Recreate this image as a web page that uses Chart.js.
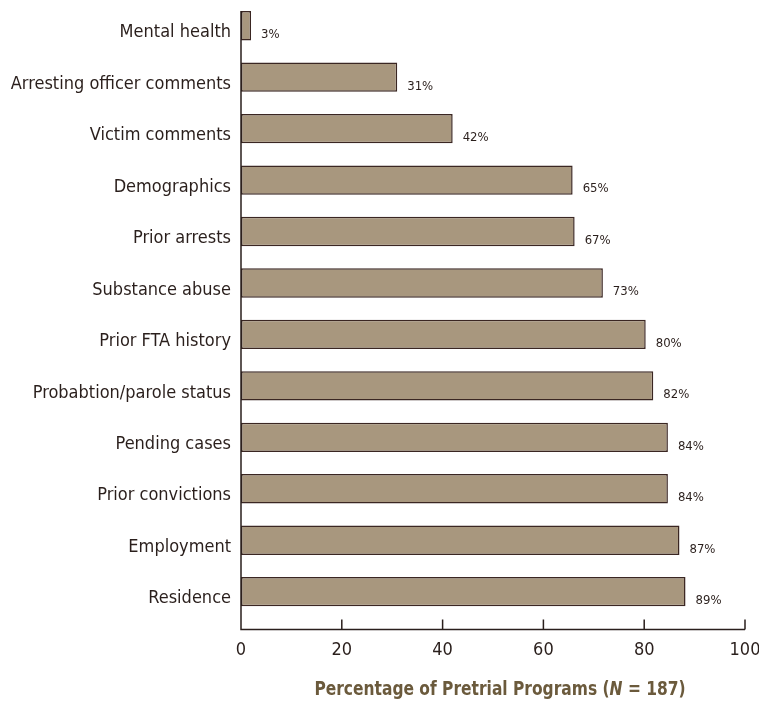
<!DOCTYPE html>
<html lang="en">
<head>
<meta charset="UTF-8">
<title>Pretrial Programs</title>
<script src="https://cdn.jsdelivr.net/npm/chart.js"></script>
<style>
  html, body { margin: 0; padding: 0; background: #fff; }
  #wrap { width: 759px; height: 707px; position: relative; }
</style>
</head>
<body>
<div id="wrap"><canvas id="dataChart"></canvas></div>
<script>
const categories = ['Mental health', 'Arresting officer comments', 'Victim comments', 'Demographics',
  'Prior arrests', 'Substance abuse', 'Prior FTA history', 'Probabtion/parole status',
  'Pending cases', 'Prior convictions', 'Employment', 'Residence'];
const values = [2, 31, 42, 65.8, 66.2, 71.8, 80.3, 81.8, 84.7, 84.7, 87, 88.2];
const valueLabels = ['3%', '31%', '42%', '65%', '67%', '73%', '80%', '82%', '84%', '84%', '87%', '89%'];
const xTicks = [0, 20, 40, 60, 80, 100];

const FONT = "'Liberation Sans Narrow', 'DejaVu Sans Condensed', 'Arial Narrow', sans-serif";
const INK = '#2a1f1c';
const AXIS_DROP = 12; // x axis line sits a little below the last bar band

const extras = {
  id: 'extras',
  afterDraw(chart) {
    const c = chart.ctx, x = chart.scales.x;
    const base = chart.chartArea.bottom + AXIS_DROP;
    const meta = chart.getDatasetMeta(0);
    const top = meta.data[0].y - meta.data[0].height / 2;
    c.save();
    c.strokeStyle = INK;
    c.lineWidth = 1.5;
    c.beginPath();
    c.moveTo(x.getPixelForValue(0), top);
    c.lineTo(x.getPixelForValue(0), base);
    c.lineTo(x.getPixelForValue(100), base);
    xTicks.forEach(t => {
      const px = x.getPixelForValue(t);
      c.moveTo(px, base);
      c.lineTo(px, base - 10);
    });
    c.stroke();

    // value labels
    c.fillStyle = INK;
    c.font = '13px ' + FONT;
    c.textBaseline = 'middle';
    c.textAlign = 'left';
    meta.data.forEach((bar, i) => {
      c.fillText(valueLabels[i], bar.x + 10, bar.y + 9);
    });

    // axis title with italic N, squeezed a bit to look condensed
    const parts = [
      ['bold 20px ' + FONT, 'Percentage of Pretrial Programs ('],
      ['bold italic 20px ' + FONT, 'N'],
      ['bold 20px ' + FONT, ' = 187)']
    ];
    const sx = 0.86;
    let w = 0;
    parts.forEach(p => { c.font = p[0]; w += c.measureText(p[1]).width; });
    c.translate(500 - w * sx / 2, 690);
    c.scale(sx, 1);
    let cx = 0;
    c.fillStyle = '#6b5a3c';
    parts.forEach(p => {
      c.font = p[0];
      c.fillText(p[1], cx, 0);
      cx += c.measureText(p[1]).width;
    });
    c.restore();
  }
};

const ctx = document.getElementById('dataChart').getContext('2d');
new Chart(ctx, {
  type: 'bar',
  data: {
    labels: categories,
    datasets: [{
      data: values,
      backgroundColor: '#a8977e',
      borderColor: '#3a2622',
      borderWidth: 1.5,
      borderSkipped: false,
      barPercentage: 0.57,
      categoryPercentage: 1
    }]
  },
  options: {
    indexAxis: 'y',
    responsive: true,
    maintainAspectRatio: false,
    animation: false,
    layout: { padding: { top: 0, right: 14, bottom: 24, left: 0 } },
    scales: {
      x: {
        min: 0,
        max: 100,
        afterBuildTicks(s) { s.ticks = xTicks.map(v => ({ value: v })); },
        afterFit(s) { s.paddingLeft = 0; s.paddingRight = 0; },
        grid: { display: false, drawTicks: false },
        border: { display: false },
        ticks: { color: INK, font: { family: FONT, size: 18 }, padding: 22, maxRotation: 0 }
      },
      y: {
        grid: { display: false, drawTicks: false },
        border: { display: false },
        afterFit(s) { s.width = 241; s.paddingTop = 0; s.paddingBottom = 0; },
        ticks: { color: INK, font: { family: FONT, size: 18 }, padding: 10, labelOffset: 7 }
      }
    },
    plugins: {
      legend: { display: false },
      tooltip: { enabled: false }
    }
  },
  plugins: [extras]
});
</script>
</body>
</html>
